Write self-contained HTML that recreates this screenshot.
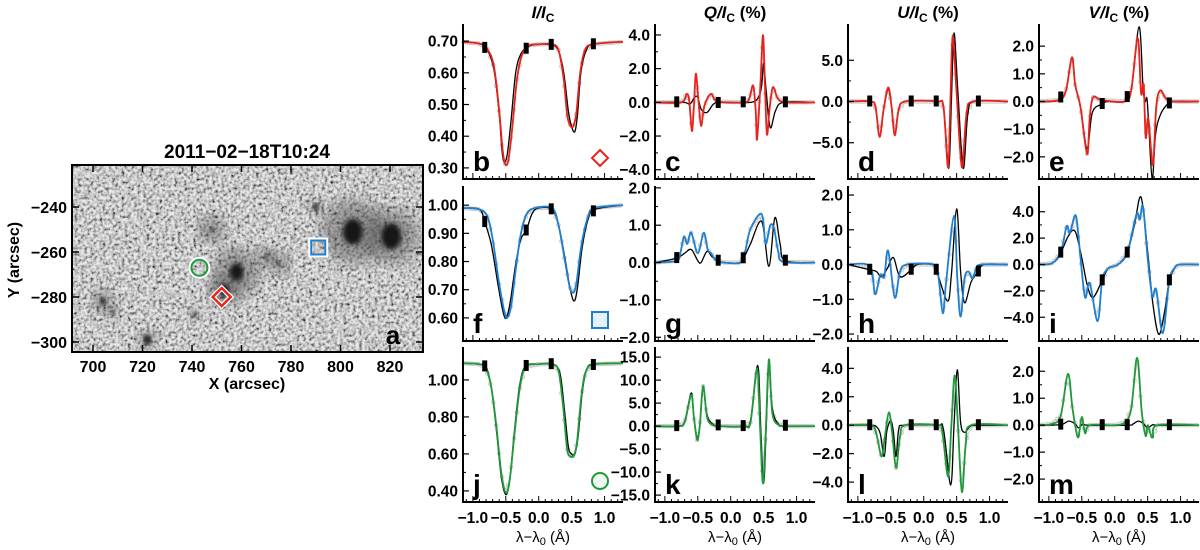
<!DOCTYPE html>
<html><head><meta charset="utf-8"><style>
html,body{margin:0;padding:0;background:#fff;}
svg text{font-family:"Liberation Sans",sans-serif;font-weight:bold;fill:#000;}
</style></head><body>
<svg id="fig" width="1200" height="545" viewBox="0 0 1200 545" xmlns="http://www.w3.org/2000/svg">
<defs>
<filter id="gran" x="0" y="0" width="100%" height="100%">
<feTurbulence type="fractalNoise" baseFrequency="0.32" numOctaves="2" seed="4" result="n"/>
<feColorMatrix type="matrix" values="2.2 0 0 0 -0.45  2.2 0 0 0 -0.45  2.2 0 0 0 -0.45  0 0 0 0 1"/>
</filter>
<filter id="blur2"><feGaussianBlur stdDeviation="2.5"/></filter>
<filter id="blur6"><feGaussianBlur stdDeviation="7"/></filter>
<clipPath id="mapclip"><rect x="72" y="165" width="351" height="187"/></clipPath>
</defs>
<g id="map"></g>
<g id="panels"></g>
</svg>
<script>
// ---------- Map data ----------
const mapXTicks = [700,720,740,760,780,800,820];
const mapYTicks = [-240,-260,-280,-300];
const spotX = [805, 820.5, 758, 753, 704, 722, 741, 790, 770, 708, 748, 775];
const spotY = [-251, -253, -269, -277, -282, -299, -288, -240, -262, -287, -250, -265];
const spotR = [10, 10, 7, 5, 3, 4, 2, 3, 2, 2, 2, 2];
const penR  = [32, 28, 24, 16, 12, 10, 7, 8, 10, 7, 14, 12];
const markX = [743, 752, 791];
const markY = [-267, -280, -258];

// ---------- Stokes panel data ----------
const colTitles = ["I/I", "Q/I", "U/I", "V/I"];
const colSuffix = ["", " (%)", " (%)", " (%)"];
const panelLetters = ["b","c","d","e","f","g","h","i","j","k","l","m"];
const yRanges = [[0.265,0.754],[-4.55,4.65],[-9.4,9.4],[-2.8,2.8],
                 [0.518,1.068],[-2.1,2.05],[-2.2,2.26],[-5.8,5.95],
                 [0.34,1.178],[-16.5,17.2],[-5.4,5.5],[-2.85,2.9]];
const yTickVals = [[0.3,0.4,0.5,0.6,0.7],[-4,-2,0,2,4],[-5,0,5],[-2,-1,0,1,2],
                   [0.6,0.7,0.8,0.9,1.0],[-2,-1,0,1,2],[-2,-1,0,1,2],[-4,-2,0,2,4],
                   [0.4,0.6,0.8,1.0],[-15,-10,-5,0,5,10,15],[-4,-2,0,2,4],[-2,-1,0,1,2]];
const yTickLabels = [["0.30","0.40","0.50","0.60","0.70"],["−4.0","−2.0","0.0","2.0","4.0"],["−5.0","0.0","5.0"],["−2.0","−1.0","0.0","1.0","2.0"],
                     ["0.60","0.70","0.80","0.90","1.00"],["−2.0","−1.0","0.0","1.0","2.0"],["−2.0","−1.0","0.0","1.0","2.0"],["−4.0","−2.0","0.0","2.0","4.0"],
                     ["0.40","0.60","0.80","1.00"],["−15.0","−10.0","−5.0","0.0","5.0","10.0","15.0"],["−4.0","−2.0","0.0","2.0","4.0"],["−2.0","−1.0","0.0","1.0","2.0"]];
const xTickVals = [-1,-0.5,0,0.5,1];
const xTickLabels = ["−1.0","−0.5","0.0","0.5","1.0"];
const markerX = [-0.82,-0.19,0.19,0.83];
const rowColors = ["#e8231c","#1f7fcf","#1f9a3a"];

const fitB = [[-1.15,0.697],[-0.9,0.692],[-0.78,0.675],[-0.68,0.62],[-0.6,0.48],[-0.55,0.36],[-0.51,0.312],[-0.46,0.325],[-0.4,0.43],[-0.33,0.58],[-0.25,0.66],[-0.15,0.686],[0,0.69],[0.2,0.69],[0.3,0.672],[0.38,0.58],[0.43,0.47],[0.47,0.437],[0.52,0.43],[0.57,0.47],[0.63,0.6],[0.7,0.67],[0.82,0.69],[1.28,0.698]];
const blkB = [[-1.15,0.697],[-0.9,0.692],[-0.78,0.672],[-0.68,0.61],[-0.6,0.47],[-0.56,0.36],[-0.53,0.32],[-0.48,0.34],[-0.42,0.45],[-0.35,0.6],[-0.27,0.66],[-0.15,0.684],[0,0.69],[0.2,0.688],[0.3,0.67],[0.38,0.6],[0.45,0.48],[0.5,0.43],[0.55,0.415],[0.59,0.47],[0.64,0.6],[0.72,0.67],[0.83,0.69],[1.28,0.698]];
const fitC = [[-1.15,0],[-0.75,0],[-0.67,0.5],[-0.63,0.1],[-0.59,-1.7],[-0.56,-0.3],[-0.53,1.7],[-0.49,0.1],[-0.45,-1.4],[-0.4,-0.2],[-0.3,0.5],[-0.2,0.05],[0.2,0],[0.28,0.2],[0.34,1.0],[0.38,-0.5],[0.4,-2.2],[0.45,1.0],[0.49,4.0],[0.52,1.0],[0.55,-1.9],[0.59,-0.4],[0.64,0.9],[0.72,0.2],[0.85,0],[1.28,0]];
const blkC = [[-1.15,0],[-0.72,0],[-0.62,-0.1],[-0.55,0.3],[-0.5,0.3],[-0.45,-0.4],[-0.36,-0.6],[-0.26,-0.1],[-0.15,0],[0.3,0],[0.42,0.3],[0.47,1.0],[0.5,2.3],[0.54,0.6],[0.6,-1.5],[0.68,-0.5],[0.8,0],[1.28,0]];
const fitD = [[-1.15,0],[-0.8,0],[-0.73,-0.8],[-0.67,-4.3],[-0.61,-1.0],[-0.54,1.7],[-0.49,-0.5],[-0.44,-4.1],[-0.38,-1.0],[-0.28,0],[0.2,0],[0.3,-0.7],[0.37,-8.0],[0.405,0],[0.44,8.0],[0.5,1.0],[0.58,-8.0],[0.65,-1.5],[0.75,0],[1.28,0]];
const blkD = [[-1.15,0],[-0.8,0],[-0.73,-0.8],[-0.67,-4.2],[-0.61,-1.0],[-0.54,1.5],[-0.49,-0.5],[-0.44,-4.0],[-0.38,-1.0],[-0.28,0],[0.2,0],[0.3,-0.7],[0.38,-8.1],[0.42,0],[0.46,8.3],[0.52,1.0],[0.6,-8.1],[0.67,-1.5],[0.77,0],[1.28,0]];
const fitE = [[-1.15,0],[-0.85,0.05],[-0.74,0.4],[-0.65,1.6],[-0.6,0.6],[-0.52,-0.2],[-0.42,-1.9],[-0.38,-0.6],[-0.33,0.15],[-0.2,0.05],[0.15,0],[0.25,0.4],[0.35,2.3],[0.4,0.3],[0.44,0.6],[0.47,-1.3],[0.51,-0.6],[0.58,-2.3],[0.63,-0.2],[0.69,0.4],[0.78,0.1],[0.9,0],[1.28,0]];
const blkE = [[-1.15,0],[-0.85,0.05],[-0.74,0.4],[-0.65,1.6],[-0.6,0.6],[-0.52,-0.2],[-0.42,-1.7],[-0.34,-0.4],[-0.2,-0.1],[-0.1,0],[0.15,0],[0.25,0.4],[0.37,2.7],[0.43,0.5],[0.46,0],[0.49,0.1],[0.52,-1.0],[0.57,-2.8],[0.62,-1.2],[0.69,-0.5],[0.8,-0.1],[0.9,0],[1.28,0]];
const fitF = [[-1.15,0.99],[-0.9,0.985],[-0.78,0.96],[-0.7,0.88],[-0.6,0.72],[-0.52,0.62],[-0.48,0.6],[-0.42,0.64],[-0.35,0.77],[-0.27,0.9],[-0.18,0.97],[-0.05,0.99],[0.2,0.99],[0.3,0.93],[0.4,0.8],[0.47,0.71],[0.52,0.69],[0.57,0.72],[0.65,0.86],[0.75,0.96],[0.85,0.99],[1.28,1.0]];
const blkF = [[-1.15,0.99],[-0.9,0.985],[-0.82,0.94],[-0.72,0.86],[-0.62,0.72],[-0.54,0.62],[-0.49,0.6],[-0.43,0.66],[-0.35,0.79],[-0.27,0.88],[-0.19,0.91],[-0.1,0.97],[0.0,0.99],[0.2,0.985],[0.3,0.93],[0.4,0.81],[0.48,0.7],[0.54,0.66],[0.59,0.71],[0.66,0.85],[0.75,0.95],[0.85,0.985],[1.28,1.0]];
const fitG = [[-1.15,0],[-0.82,0.05],[-0.76,0.3],[-0.71,0.7],[-0.66,0.5],[-0.6,0.8],[-0.5,0.25],[-0.41,0.8],[-0.35,0.35],[-0.3,0.25],[-0.22,0.05],[-0.1,0],[0.15,0],[0.22,0.3],[0.3,0.9],[0.47,1.3],[0.53,0.5],[0.6,1.0],[0.66,0.9],[0.72,0.3],[0.8,0.02],[1.28,0]];
const blkG = [[-1.15,0],[-0.82,0.12],[-0.7,0.25],[-0.6,0.35],[-0.5,0.05],[-0.45,0],[-0.36,0.3],[-0.28,0.15],[-0.19,0.05],[-0.1,0],[0.15,0],[0.22,0.2],[0.3,0.5],[0.47,1.1],[0.58,-0.1],[0.67,1.2],[0.75,0.5],[0.83,0.05],[1.28,0]];
const fitH = [[-1.15,0],[-0.82,-0.05],[-0.74,-0.85],[-0.66,-0.3],[-0.6,-0.35],[-0.54,0.4],[-0.44,-0.95],[-0.36,-0.2],[-0.25,0],[0.15,0],[0.22,-0.3],[0.29,-1.4],[0.34,-0.5],[0.46,1.4],[0.51,-0.4],[0.56,-1.5],[0.62,-0.4],[0.68,-0.2],[0.74,-0.4],[0.8,-0.1],[0.88,0],[1.28,0]];
const blkH = [[-1.15,0],[-0.82,-0.15],[-0.72,-0.2],[-0.64,-0.35],[-0.55,-0.1],[-0.46,0.2],[-0.36,-0.35],[-0.19,-0.15],[-0.1,0],[0.12,0],[0.19,-0.15],[0.36,-1.05],[0.42,-0.3],[0.5,1.6],[0.56,-0.2],[0.62,-1.1],[0.72,-0.5],[0.83,-0.2],[0.92,0],[1.28,0]];
const fitI = [[-1.15,0],[-0.95,0.1],[-0.82,0.9],[-0.73,2.9],[-0.68,2.4],[-0.59,3.7],[-0.52,0.5],[-0.45,-2.5],[-0.38,-1.4],[-0.26,-4.3],[-0.19,-1.2],[-0.1,-0.3],[0.05,0],[0.19,0.9],[0.33,3.8],[0.38,3.4],[0.43,4.4],[0.5,0.5],[0.57,-2.4],[0.63,-1.9],[0.73,-5.2],[0.83,-1.2],[0.92,-0.2],[1.0,0],[1.28,0]];
const blkI = [[-1.15,0],[-0.95,0.1],[-0.82,0.9],[-0.7,2.2],[-0.6,2.5],[-0.5,0.5],[-0.42,-1.5],[-0.33,-2.5],[-0.19,-1.2],[-0.1,-0.3],[0.05,0],[0.19,0.9],[0.3,3.0],[0.4,5.1],[0.5,1.0],[0.58,-3.0],[0.67,-5.3],[0.76,-3.5],[0.83,-1.2],[0.92,-0.2],[1.0,0],[1.28,0]];
const fitJ = [[-1.15,1.09],[-0.9,1.085],[-0.8,1.06],[-0.72,0.96],[-0.64,0.74],[-0.57,0.5],[-0.5,0.39],[-0.44,0.46],[-0.37,0.7],[-0.29,0.95],[-0.2,1.07],[0.0,1.085],[0.2,1.085],[0.3,1.05],[0.37,0.86],[0.43,0.63],[0.47,0.59],[0.53,0.59],[0.58,0.66],[0.65,0.92],[0.72,1.05],[0.85,1.085],[1.28,1.09]];
const blkJ = [[-1.15,1.09],[-0.9,1.085],[-0.8,1.07],[-0.72,0.96],[-0.64,0.72],[-0.57,0.48],[-0.5,0.38],[-0.44,0.46],[-0.37,0.72],[-0.29,0.97],[-0.2,1.075],[0.0,1.085],[0.2,1.085],[0.32,1.04],[0.39,0.84],[0.45,0.64],[0.5,0.6],[0.55,0.6],[0.6,0.7],[0.66,0.93],[0.73,1.06],[0.85,1.085],[1.28,1.09]];
const fitK = [[-1.15,0],[-0.8,0],[-0.7,0.8],[-0.6,6.8],[-0.56,2.0],[-0.51,-3.0],[-0.47,0],[-0.42,8.7],[-0.36,2.0],[-0.28,0.3],[-0.15,0],[0.2,0],[0.3,0.8],[0.4,12.5],[0.445,0],[0.49,-12.5],[0.535,0],[0.58,14.5],[0.63,3.0],[0.72,0.3],[0.85,0],[1.28,0]];
const blkK = [[-1.15,0],[-0.8,0],[-0.7,1.0],[-0.6,7.2],[-0.56,2.0],[-0.51,-2.5],[-0.47,0],[-0.42,8.3],[-0.36,2.5],[-0.28,0.5],[-0.15,0],[0.2,0],[0.3,1.2],[0.41,13.2],[0.455,0],[0.5,-12.5],[0.54,0],[0.58,14.0],[0.63,4.0],[0.72,0.5],[0.85,0],[1.28,0]];
const fitL = [[-1.15,0],[-0.8,0],[-0.72,-0.6],[-0.64,-2.2],[-0.59,-0.8],[-0.53,0.9],[-0.48,-0.5],[-0.42,-3.0],[-0.36,-0.8],[-0.28,0],[0.2,0],[0.28,-0.4],[0.37,-3.6],[0.42,0],[0.47,3.5],[0.52,0],[0.58,-4.7],[0.64,-1.2],[0.72,0],[1.28,0]];
const blkL = [[-1.15,0],[-0.8,0],[-0.72,-0.1],[-0.66,-0.6],[-0.6,-2.2],[-0.56,-0.4],[-0.5,0.3],[-0.46,-0.5],[-0.42,-2.2],[-0.38,-0.3],[-0.3,0],[0.2,0],[0.3,-0.3],[0.41,-4.2],[0.46,0],[0.51,3.9],[0.56,0.2],[0.62,-0.5],[0.7,-0.1],[0.8,0],[1.28,0]];
const fitM = [[-1.15,0],[-0.95,0.05],[-0.82,0.35],[-0.71,1.9],[-0.64,0.6],[-0.56,-0.45],[-0.5,0.3],[-0.45,-0.3],[-0.38,0],[0.0,0],[0.15,0.1],[0.25,0.6],[0.34,2.5],[0.41,0.5],[0.47,-0.4],[0.5,0],[0.54,-0.3],[0.58,-0.45],[0.65,0],[1.28,0]];
const blkM = [[-1.15,0],[-0.82,0.02],[-0.7,0.15],[-0.6,0.05],[-0.55,-0.1],[-0.48,0.05],[-0.4,0],[0.2,0],[0.28,0.05],[0.36,0.15],[0.44,0.05],[0.5,-0.1],[0.58,0.02],[0.66,0],[1.28,0]];
const fits = [fitB,fitC,fitD,fitE,fitF,fitG,fitH,fitI,fitJ,fitK,fitL,fitM];
const blks = [blkB,blkC,blkD,blkE,blkF,blkG,blkH,blkI,blkJ,blkK,blkL,blkM];

const NS = "http://www.w3.org/2000/svg";
function mk(tag, attrs, parent){ const e=document.createElementNS(NS,tag); for(const k in attrs) e.setAttribute(k,attrs[k]); if(parent) parent.appendChild(e); return e; }
const colLeft = [463,655,848,1039];
const colW = 160;
const rowTop = [24,186,347];
const rowH = 155;
const XMIN=-1.15, XMAX=1.28;

// ---- Map ----
const map = document.getElementById('map');
const MX0=72, MX1=423, MY0=165, MY1=352;
const mx = a => 93 + (a-700)*2.475;
const my = b => 207 + (-240-b)*2.25;
const mg = mk('g',{'clip-path':'url(#mapclip)'},map);
mk('rect',{x:MX0,y:MY0,width:MX1-MX0,height:MY1-MY0,fill:'#a4a4a4'},mg);
const granu = mk('rect',{x:MX0,y:MY0,width:MX1-MX0,height:MY1-MY0,filter:'url(#gran)',opacity:'0.75'},mg);


for(let i=0;i<spotX.length;i++){
  const p = mk('circle',{cx:mx(spotX[i]),cy:my(spotY[i]),r:penR[i],fill:'#4a4a4a',opacity:'0.45',filter:'url(#blur6)'},mg);
  
  
  const u = mk('ellipse',{cx:mx(spotX[i]),cy:my(spotY[i]),rx:spotR[i],ry:spotR[i]*1.3,fill:'#151515',filter:'url(#blur2)'},mg);
  
  
}
mk('rect',{x:MX0,y:MY0,width:MX1-MX0,height:MY1-MY0,fill:'none',stroke:'#000','stroke-width':2},map);
mapXTicks.forEach(v=>{
  mk('line',{x1:mx(v),x2:mx(v),y1:MY1,y2:MY1-7,stroke:'#000','stroke-width':1.5},map);
  mk('line',{x1:mx(v),x2:mx(v),y1:MY0,y2:MY0+7,stroke:'#000','stroke-width':1.5},map);
  const t=mk('text',{x:mx(v),y:372,'text-anchor':'middle','font-size':16},map); t.textContent=v;
  
  
});
mapYTicks.forEach(v=>{
  mk('line',{x1:MX0,x2:MX0+7,y1:my(v),y2:my(v),stroke:'#000','stroke-width':1.5},map);
  mk('line',{x1:MX1,x2:MX1-7,y1:my(v),y2:my(v),stroke:'#000','stroke-width':1.5},map);
  const t=mk('text',{x:67,y:my(v)+6,'text-anchor':'end','font-size':16},map); t.textContent=String(v).replace('-','−');
  
  
});
let t;
t=mk('text',{x:247,y:158,'text-anchor':'middle','font-size':19},map); t.textContent='2011−02−18T10:24';
 
t=mk('text',{x:247,y:389,'text-anchor':'middle','font-size':16},map); t.textContent='X (arcsec)';
 
t=mk('text',{x:0,y:0,'text-anchor':'middle','font-size':16,transform:'translate(19,260) rotate(-90)'},map); t.textContent='Y (arcsec)';
 
t=mk('text',{x:393,y:344,'text-anchor':'middle','font-size':26},map); t.textContent='a';
 
function circleMark(g,x,y,c){ mk('circle',{cx:x,cy:y,r:9,fill:'none',stroke:'#fff','stroke-width':4},g); mk('circle',{cx:x,cy:y,r:8,fill:'none',stroke:c,'stroke-width':2},g); }
function diamondMark(g,x,y,c){ const d=`M${x},${y-9} L${x+9},${y} L${x},${y+9} L${x-9},${y} Z`; mk('path',{d,fill:'none',stroke:'#fff','stroke-width':5},g); mk('path',{d,fill:'none',stroke:c,'stroke-width':2.5},g); }
function squareMark(g,x,y,c){ mk('rect',{x:x-8,y:y-8,width:16,height:16,fill:'none',stroke:'#fff','stroke-width':4},g); mk('rect',{x:x-7,y:y-7,width:14,height:14,fill:'none',stroke:c,'stroke-width':2},g); }
let mkg;
mkg=mk('g',{},map);   circleMark(mkg,mx(markX[0]),my(markY[0]),rowColors[2]);
mkg=mk('g',{},map);   diamondMark(mkg,mx(markX[1]),my(markY[1]),rowColors[0]);
mkg=mk('g',{},map);   squareMark(mkg,mx(markX[2]),my(markY[2]),rowColors[1]);

// ---- Stokes panels ----
const panels = document.getElementById('panels');
function spline(pts){
  let d=`M${pts[0][0].toFixed(2)},${pts[0][1].toFixed(2)}`;
  for(let i=0;i<pts.length-1;i++){
    const p0=pts[Math.max(0,i-1)],p1=pts[i],p2=pts[i+1],p3=pts[Math.min(pts.length-1,i+2)];
    const c1x=p1[0]+(p2[0]-p0[0])/6, c1y=p1[1]+(p2[1]-p0[1])/6;
    const c2x=p2[0]-(p3[0]-p1[0])/6, c2y=p2[1]-(p3[1]-p1[1])/6;
    d+=` C${c1x.toFixed(2)},${c1y.toFixed(2)} ${c2x.toFixed(2)},${c2y.toFixed(2)} ${p2[0].toFixed(2)},${p2[1].toFixed(2)}`;
  }
  return d;
}
function interp(pts,x){
  for(let i=0;i<pts.length-1;i++){ if(x>=pts[i][0]&&x<=pts[i+1][0]){ const f=(x-pts[i][0])/(pts[i+1][0]-pts[i][0]); return pts[i][1]+f*(pts[i+1][1]-pts[i][1]); } }
  return pts[pts.length-1][1];
}
for(let c=0;c<4;c++){
  const tt=mk('text',{x:colLeft[c]+colW/2,y:18,'text-anchor':'middle','font-size':17},panels);
  
  
  const a=mk('tspan',{'font-style':'italic'},tt); a.textContent=colTitles[c];
  const b=mk('tspan',{'font-size':12,dy:4},tt); b.textContent='C';
  const s=mk('tspan',{dy:-4},tt); s.textContent=colSuffix[c];
}
for(let r=0;r<3;r++){
  for(let c=0;c<4;c++){
    const k=r*4+c;
    const L=colLeft[c], T=rowTop[r], B=T+rowH, R=L+colW;
    const [ymin,ymax]=yRanges[k];
    const sx=v=>L+(v-XMIN)/(XMAX-XMIN)*colW;
    const sy=v=>B-(v-ymin)/(ymax-ymin)*rowH;
    const g=mk('g',{},panels);
    
    
    const fit=fits[k], blk=blks[k];
    const obs=[]; for(let x=XMIN+0.01;x<=XMAX;x+=0.045){ obs.push([sx(x),sy(interp(fit,x))]); }
    const op=mk('polyline',{points:obs.map(p=>p[0].toFixed(1)+','+p[1].toFixed(1)).join(' '),fill:'none',stroke:'#cfcfcf','stroke-width':1},g);
    
    
    obs.forEach(p=>{ mk('circle',{cx:p[0],cy:p[1],r:1.8,fill:'none',stroke:'#c4c4c4','stroke-width':0.9},g); });
    const bp=mk('path',{d:spline(blk.map(p=>[sx(p[0]),sy(p[1])])),fill:'none',stroke:'#000','stroke-width':1.3},g);
    
    
    const fp=mk('path',{d:spline(fit.map(p=>[sx(p[0]),sy(p[1])])),fill:'none',stroke:rowColors[r],'stroke-width':1.8},g);
    
    
    markerX.forEach(mxv=>{
      const yy=sy(interp(blk,mxv));
      const m=mk('rect',{x:sx(mxv)-2.5,y:yy-6,width:5,height:11,fill:'#000'},g);
      
      
    });
    mk('line',{x1:L,x2:L,y1:T,y2:B,stroke:'#000','stroke-width':2},g);
    mk('line',{x1:L-1,x2:R,y1:B,y2:B,stroke:'#000','stroke-width':2},g);
    for(let x=-1.1;x<=XMAX;x+=0.1){ const big=Math.abs(Math.round(x*2)-x*2)<0.01; mk('line',{x1:sx(x),x2:sx(x),y1:B,y2:B-(big?6:3),stroke:'#000','stroke-width':1},g); }
    yTickVals[k].forEach((v,i)=>{
      mk('line',{x1:L,x2:L+6,y1:sy(v),y2:sy(v),stroke:'#000','stroke-width':1.2},g);
      const tl=mk('text',{x:L-5,y:sy(v)+5.5,'text-anchor':'end','font-size':15.5},g); tl.textContent=yTickLabels[k][i];
      
      
    });
    for(let i=0;i<yTickVals[k].length-1;i++){ const m=(yTickVals[k][i]+yTickVals[k][i+1])/2; mk('line',{x1:L,x2:L+3,y1:sy(m),y2:sy(m),stroke:'#000','stroke-width':1},g); }
    if(r===2){
      xTickVals.forEach((v,i)=>{
        const tl=mk('text',{x:sx(v),y:523,'text-anchor':'middle','font-size':15.5},g); tl.textContent=xTickLabels[i];
        
        
      });
      const xt=mk('text',{x:L+colW/2,y:542,'text-anchor':'middle','font-size':15,style:'font-weight:normal'},g);
      
      
      const a1=mk('tspan',{},xt); a1.textContent='λ−λ';
      const a2=mk('tspan',{'font-size':11,dy:3},xt); a2.textContent='0';
      const a3=mk('tspan',{dy:-3},xt); a3.textContent=' (Å)';
    }
    const lt=mk('text',{x:L+10,y:B-8,'font-size':28},g); lt.textContent=panelLetters[k];
    
    
    if(c===0){
      const sg=mk('g',{},g);
      
      
      const x0=L+137, y0=B-21;
      if(r===0){ const d=`M${x0},${y0-8} L${x0+8},${y0} L${x0},${y0+8} L${x0-8},${y0} Z`; mk('path',{d,fill:'#fff',stroke:rowColors[0],'stroke-width':2},sg); }
      if(r===1){ mk('rect',{x:x0-8,y:y0-8,width:16,height:16,fill:'#e4f1fb',stroke:rowColors[1],'stroke-width':2},sg); }
      if(r===2){ mk('circle',{cx:x0,cy:y0,r:8,fill:'#eef8ee',stroke:rowColors[2],'stroke-width':2},sg); }
    }
  }
}
</script>
</body></html>
